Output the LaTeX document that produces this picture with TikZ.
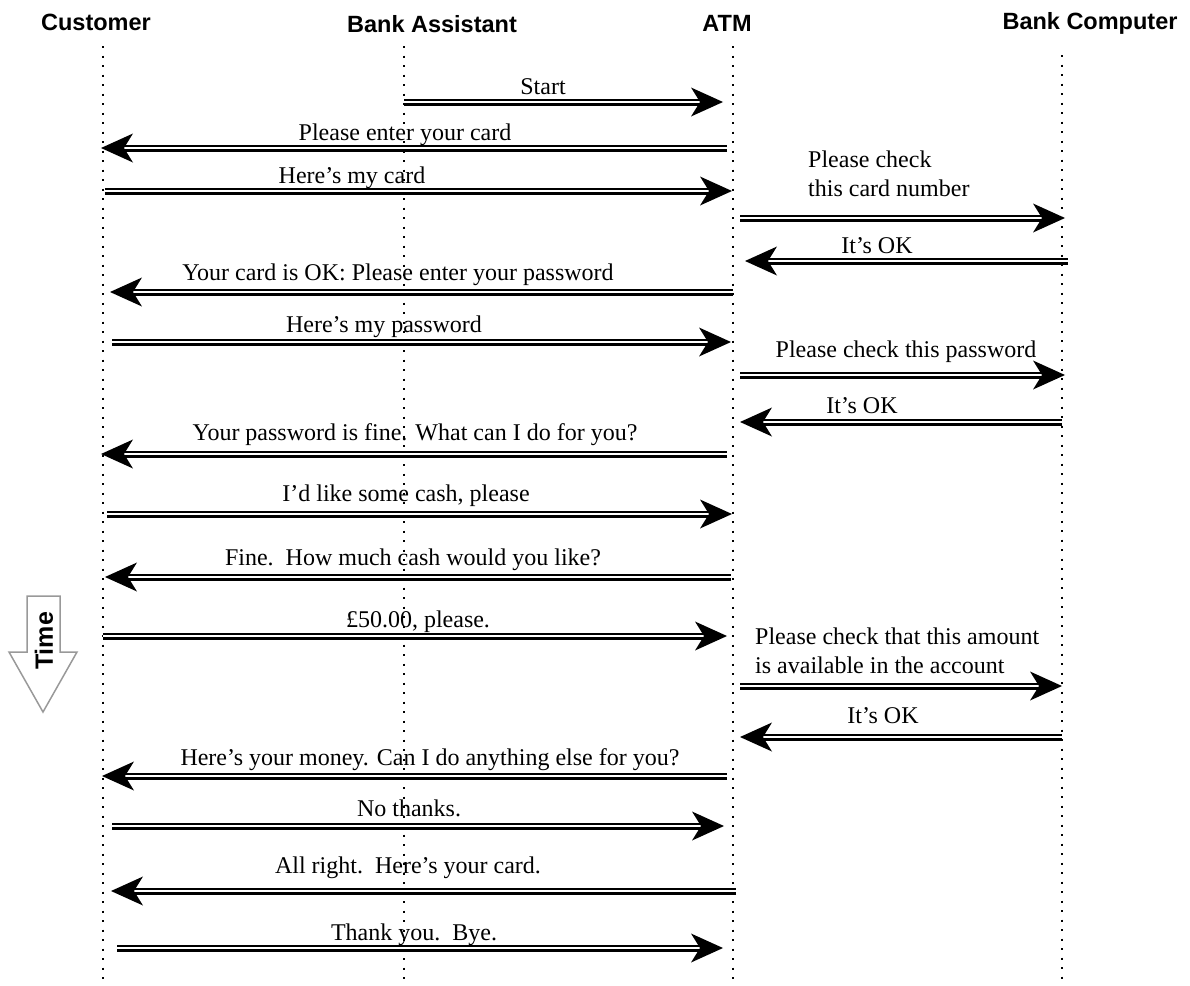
\documentclass[tikz,border=0pt]{standalone}
\usepackage{fontspec}
\setmainfont{Liberation Serif}
\newfontfamily\headfont{Liberation Sans}
\usetikzlibrary{arrows.meta}

\definecolor{timegray}{gray}{0.6}

\tikzset{
  lifeline/.style={line width=2.4pt, dash pattern=on 2.4pt off 7.1pt},
  msg/.style={draw=black, line width=2.5pt, double=white, double distance=2pt,
    -{Stealth[length=32pt, width=29pt, inset=9pt, line width=0pt]}},
  msgtext/.style={font=\fontsize{24}{29}\selectfont, anchor=base, inner sep=0pt},
  msgblock/.style={font=\fontsize{24}{29}\selectfont, anchor=north west, inner sep=0pt, align=left},
  actor/.style={font=\headfont\bfseries\fontsize{23.5}{28}\selectfont, anchor=base, inner sep=0pt},
}

\begin{document}
\begin{tikzpicture}[x=1pt, y=-1pt]
\useasboundingbox (0,0) rectangle (1190,985);

% actors
\node[actor] (customer)  at (96,30)   {Customer};
\node[actor] (assistant) at (432,32)  {Bank Assistant};
\node[actor] (atm)       at (727,31)  {ATM};
\node[actor] (computer)  at (1090,29) {Bank Computer};

% lifelines
\coordinate (cusT) at (103,46);  \coordinate (cusB) at (103,985);
\coordinate (asT)  at (404,46);  \coordinate (asB)  at (404,985);
\coordinate (atmT) at (733,46);  \coordinate (atmB) at (733,985);
\coordinate (bcT)  at (1062,55); \coordinate (bcB)  at (1062,985);
\draw[lifeline] (cusT) -- (cusB);
\draw[lifeline] (asT) -- (asB);
\draw[lifeline] (atmT) -- (atmB);
\draw[lifeline] (bcT) -- (bcB);

% time indicator
\draw[timegray, line width=1.5pt, line join=miter]
  (27,596) -- (60,596) -- (60,652) -- (77,652) -- (43,712) -- (9,652) -- (27,652) -- cycle;
\node[font=\headfont\bfseries\fontsize{25}{28}\selectfont, rotate=90, inner sep=0pt] (time) at (44,641) {Time};

% message endpoints
\coordinate (m1s)  at (404,102);  \coordinate (m1e)  at (723,102);
\coordinate (m2s)  at (727,148);  \coordinate (m2e)  at (101,148);
\coordinate (m3s)  at (105,191);  \coordinate (m3e)  at (732,191);
\coordinate (m4s)  at (740,218);  \coordinate (m4e)  at (1065,218);
\coordinate (m5s)  at (1068,261); \coordinate (m5e)  at (745,261);
\coordinate (m6s)  at (733,292);  \coordinate (m6e)  at (110,292);
\coordinate (m7s)  at (112,342);  \coordinate (m7e)  at (731,342);
\coordinate (m8s)  at (740,375);  \coordinate (m8e)  at (1065,375);
\coordinate (m9s)  at (1062,422); \coordinate (m9e)  at (740,422);
\coordinate (m10s) at (727,454);  \coordinate (m10e) at (101,454);
\coordinate (m11s) at (107,514);  \coordinate (m11e) at (732,514);
\coordinate (m12s) at (731,577);  \coordinate (m12e) at (105,577);
\coordinate (m13s) at (103,636);  \coordinate (m13e) at (727,636);
\coordinate (m14s) at (740,686);  \coordinate (m14e) at (1062,686);
\coordinate (m15s) at (1062,737); \coordinate (m15e) at (740,737);
\coordinate (m16s) at (727,776);  \coordinate (m16e) at (102,776);
\coordinate (m17s) at (112,826);  \coordinate (m17e) at (724,826);
\coordinate (m18s) at (736,891);  \coordinate (m18e) at (111,891);
\coordinate (m19s) at (117,948);  \coordinate (m19e) at (723,948);

\foreach \i in {1,...,19} { \draw[msg] (m\i s) -- (m\i e); }

% message labels
\node[msgtext] (t1)  at (543,94)  {Start};
\node[msgtext] (t2)  at (405,140) {Please enter your card};
\node[msgtext] (t3)  at (352,183) {Here’s my card};
\node[msgblock] (t4) at (808,151) {Please check\\this card number};
\node[msgtext] (t5)  at (877,253) {It’s OK};
\node[msgtext] (t6)  at (398,280) {Your card is OK: Please enter your password};
\node[msgtext] (t7)  at (384,332) {Here’s my password};
\node[msgtext] (t8)  at (906,357) {Please check this password};
\node[msgtext] (t9)  at (862,413) {It’s OK};
\node[msgtext] (t10) at (415,440) {Your password is fine. What can I do for you?};
\node[msgtext] (t11) at (406,501) {I’d like some cash, please};
\node[msgtext] (t12) at (413,565) {Fine.\ \ How much cash would you like?};
\node[msgtext] (t13) at (418,627) {£50.00, please.};
\node[msgblock] (t14) at (755,628) {Please check that this amount\\is available in the account};
\node[msgtext] (t15) at (883,723) {It’s OK};
\node[msgtext] (t16) at (430,765) {Here’s your money. Can I do anything else for you?};
\node[msgtext] (t17) at (409,816) {No thanks.};
\node[msgtext] (t18) at (408,873) {All right.\ \ Here’s your card.};
\node[msgtext] (t19) at (414,940) {Thank you.\ \ Bye.};
\end{tikzpicture}
\end{document}
